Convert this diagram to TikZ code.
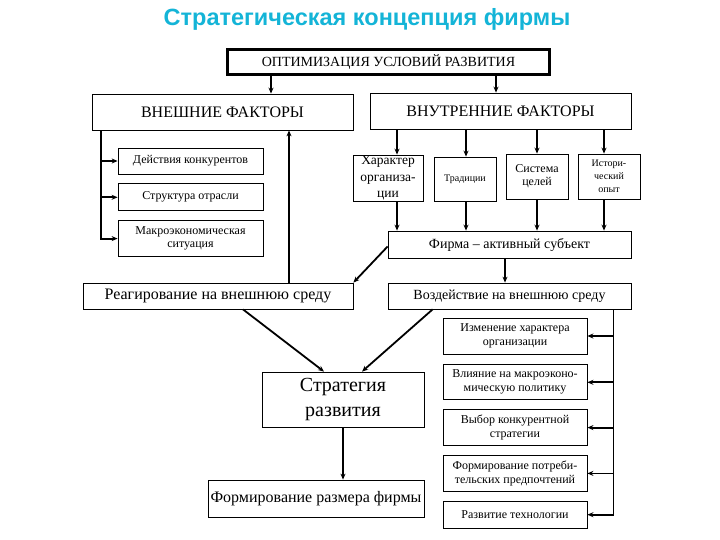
\documentclass[tikz,border=0pt]{standalone}
\usepackage{fontspec}
\setmainfont{Liberation Serif}
\newfontfamily\titlefont{Liberation Sans}
\usepackage{tikz}
\usetikzlibrary{arrows.meta, positioning}
\definecolor{titlecyan}{RGB}{20,180,215}

\begin{document}
\begin{tikzpicture}[
    x=1pt, y=-1pt,
    box/.style={rectangle, draw, line width=0.8pt, inner sep=0pt, align=center},
    factor/.style={box, minimum width=261pt, minimum height=36pt, font=\fontsize{16}{18}\selectfont},
    small/.style={box, minimum width=145pt, font=\fontsize{12}{13.5}\selectfont},
    inner/.style={box, minimum width=62pt, minimum height=45pt},
    side/.style={box, minimum width=144pt, font=\fontsize{12}{14}\selectfont},
    arrow/.style={-{Stealth[length=6pt, width=5pt]}, line width=1.8pt},
    link/.style={line width=1.8pt}
]
\useasboundingbox (0,0) rectangle (720,540);

% Title
\node[font=\titlefont\bfseries\fontsize{23.5}{26}\selectfont, text=titlecyan] (title) at (367,19) {Стратегическая концепция фирмы};

% Top level
\node[box, line width=2.6pt, minimum width=322pt, minimum height=25pt, font=\fontsize{14}{16}\selectfont] (opt) at (388.5,62) {ОПТИМИЗАЦИЯ УСЛОВИЙ РАЗВИТИЯ};
\node[factor] (ext) at (222.5,112) {ВНЕШНИЕ ФАКТОРЫ};
\node[factor] (int) at (500.5,111) {ВНУТРЕННИЕ ФАКТОРЫ};

\draw[arrow] ([xshift=48.5pt]ext.north |- opt.south) -- ([xshift=48.5pt]ext.north);
\draw[arrow] ([xshift=-4.5pt]int.north |- opt.south) -- ([xshift=-4.5pt]int.north);

% External factors
\node[small, minimum height=26pt] (comp) at (190.5,161) {Действия конкурентов};
\node[small, minimum height=27pt, below=9pt of comp] (branch) {Структура отрасли};
\node[small, minimum height=36pt, below=9pt of branch] (macro) {Макроэкономическая\\ситуация};

\coordinate (extleg) at ([xshift=9pt]ext.south west);
\draw[arrow] (extleg) |- (macro.west);
\draw[arrow] (extleg |- comp.west) -- (comp.west);
\draw[arrow] (extleg |- branch.west) -- (branch.west);

% Internal factors
\node[inner, minimum width=70pt, minimum height=46pt, font=\fontsize{13.5}{16.5}\selectfont] (charact) at (388,178) {Характер\\организа-\\ции};
\node[inner, minimum height=44pt, font=\fontsize{10}{11}\selectfont] (trad) at (465,179) {Традиции};
\node[inner, font=\fontsize{12}{13}\selectfont] (goals) at (537,176.5) {Система\\целей};
\node[inner, font=\fontsize{10}{13}\selectfont] (exper) at (609,176.5) {Истори-\\ческий\\опыт};

\draw[arrow] ([xshift=9pt]charact.north |- int.south) -- ([xshift=9pt]charact.north);
\draw[arrow] ([xshift=1pt]trad.north |- int.south) -- ([xshift=1pt]trad.north);
\draw[arrow] (goals.north |- int.south) -- (goals.north);
\draw[arrow] ([xshift=-5pt]exper.north |- int.south) -- ([xshift=-5pt]exper.north);

% Firm
\node[box, minimum width=243pt, minimum height=27pt, font=\fontsize{14}{16}\selectfont] (firm) at (509.5,244.5) {Фирма – активный субъект};
\node[box, minimum width=243pt, minimum height=26pt, font=\fontsize{14}{16}\selectfont] (infl) at (509.5,296) {Воздействие на внешнюю среду};
\node[box, minimum width=270pt, minimum height=26pt, font=\fontsize{16}{18}\selectfont] (react) at (218,296) {Реагирование на внешнюю среду};

\draw[arrow] ([xshift=9pt]charact.south) -- ([xshift=9pt]charact.south |- firm.north);
\draw[arrow] ([xshift=1pt]trad.south) -- ([xshift=1pt]trad.south |- firm.north);
\draw[arrow] (goals.south) -- (goals.south |- firm.north);
\draw[arrow] ([xshift=-5pt]exper.south) -- ([xshift=-5pt]exper.south |- firm.north);
\draw[arrow] ([xshift=-4.5pt]firm.south) -- ([xshift=-4.5pt]firm.south |- infl.north);
\draw[arrow] ([yshift=-2pt]firm.west) -- (react.north east);
\draw[arrow] ([xshift=66.5pt]ext.south |- react.north) -- ([xshift=66.5pt]ext.south);

% Strategy
\node[box, minimum width=162pt, minimum height=55pt, font=\fontsize{20}{25}\selectfont] (strat) at (343,399.5) {Стратегия\\развития};
\node[box, minimum width=216pt, minimum height=37pt, font=\fontsize{16}{18}\selectfont] (size) at (316,498.5) {Формирование размера фирмы};

\draw[arrow] ([xshift=25pt]react.south) -- ([xshift=-19pt]strat.north);
\draw[arrow] ([xshift=45pt]infl.south west) -- ([xshift=19pt]strat.north);
\draw[arrow] (strat.south) -- (strat.south |- size.north);

% Ways of influence
\node[side, minimum height=36pt] (change) at (515,336) {Изменение характера\\организации};
\node[side, minimum height=35pt, below=10pt of change] (policy) {Влияние на макроэконо-\\мическую политику};
\node[side, minimum height=36pt, below=9pt of policy] (choice) {Выбор конкурентной\\стратегии};
\node[side, minimum height=36pt, below=9pt of choice] (prefs) {Формирование потреби-\\тельских предпочтений};
\node[side, minimum height=27pt, below=9pt of prefs] (tech) {Развитие технологии};

\coordinate (infleg) at ([xshift=-18pt]infl.south east);
\draw[arrow] (infleg) |- (tech.east);
\draw[arrow] (infleg |- change.east) -- (change.east);
\draw[arrow] (infleg |- policy.east) -- (policy.east);
\draw[arrow] (infleg |- choice.east) -- (choice.east);
\draw[arrow] (infleg |- prefs.east) -- (prefs.east);

\end{tikzpicture}
\end{document}
